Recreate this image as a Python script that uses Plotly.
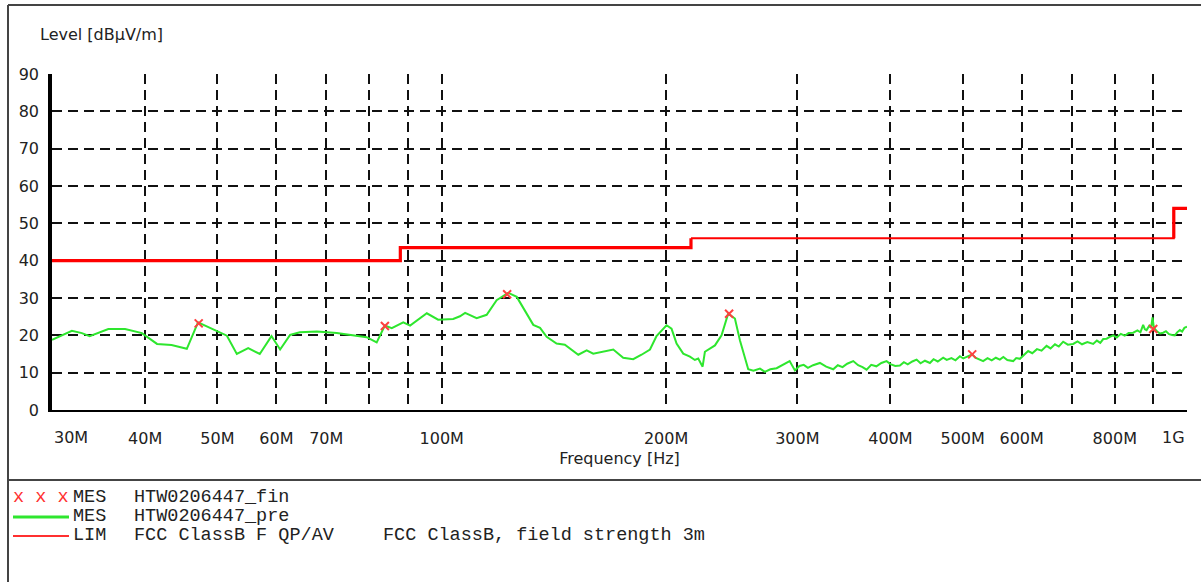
import plotly.graph_objects as go

# pre-scan trace (MHz, dBuV/m)
pre_freq_mhz = [
    30.0, 31.9, 32.9, 33.7, 35.7, 37.6, 39.6, 41.5, 43.4, 45.5, 47.1, 49.9, 51.5, 53.1, 55.0,
    57.0, 59.1, 60.7, 62.6, 64.5, 68.0, 72.3, 75.3, 79.3, 81.8, 83.9, 85.7, 88.8, 90.7, 95.5,
    98.9, 103.6, 105.8, 107.5, 111.4, 114.9, 118.5, 122.8, 126.1, 129.3, 132.7, 135.5, 138.3,
    142.6, 146.3, 152.5, 156.5, 159.7, 169.9, 175.2, 180.7, 185.4, 190.3, 194.2, 200.3, 203.4,
    206.6, 210.9, 215.3, 218.6, 220.9, 223.9, 225.5, 232.6, 237.4, 242.3, 247.4, 251.3, 257.8,
    262, 267.3, 271.4, 276, 281.4, 286, 293, 297.8, 302, 306, 310, 315, 321.7, 328, 335.2, 340,
    345, 350, 356.6, 362, 367, 371.6, 377, 383, 389, 395.3, 400, 406, 411.9, 417, 422, 428,
    433.7, 439, 445, 451.9, 457, 463, 470.8, 476, 483, 489, 495.8, 501, 508, 514.9, 520, 526,
    532.7, 540, 547, 554, 560.9, 567, 574, 584.5, 590, 596.7, 604, 612.2, 620, 629, 638, 648,
    656, 665, 673, 682.1, 692, 703.5, 713, 723, 735, 748.4, 757, 765, 772, 780.1, 788, 796.1,
    805, 815, 825, 835, 846.7, 858, 866, 873.3, 878, 882.5, 890, 895, 899, 902, 905.5, 912, 920,
    929, 937, 946, 955, 963.2, 970, 978.2, 985, 992, 1000,
]
pre_level = [
    18.8, 21.2, 20.6, 19.8, 21.7, 21.7, 20.6, 17.7, 17.4, 16.4, 23.5, 21.3, 19.9, 15.0, 16.6,
    15.0, 19.8, 16.2, 20.1, 20.8, 21.0, 20.6, 20.1, 19.5, 18.1, 22.6, 21.9, 23.5, 22.6, 25.9,
    24.2, 24.4, 25.1, 26.0, 24.6, 25.5, 29.4, 31.4, 30.3, 26.7, 22.8, 22.0, 19.6,
    17.8, 17.5, 14.8, 16.0, 15.1, 16.2, 14.0, 13.6, 14.8, 16.2, 19.8, 22.7, 21.8,
    17.8, 15.1, 14.3, 13.4, 13.8, 11.6, 15.6, 17.3, 20.0, 25.8, 24.5, 18.6, 10.9,
    10.5, 11.1, 10.2, 10.9, 11.2, 12.0, 13.1, 10.6, 11.8, 12.1, 11.3, 12.0, 12.6, 11.6, 10.9, 12.0,
    11.5, 12.4, 13.1, 12.0, 11.5, 10.8, 12.1, 11.7, 12.6, 13.1, 12.3, 11.8, 11.9, 12.8, 12.2, 13.0,
    13.5, 12.5, 13.2, 12.6, 13.6, 13.0, 14.0, 13.4, 13.9, 13.3, 14.4, 13.8, 14.3, 14.9, 14.0, 13.6,
    13.1, 13.9, 13.3, 14.0, 13.5, 14.2, 13.4, 13.1, 13.9, 13.7, 14.8, 15.8, 15.2, 16.3, 15.9, 17.2,
    16.5, 17.6, 17.0, 18.3, 17.5, 17.7, 18.4, 17.6, 18.2, 17.7, 18.6, 18.0, 19.0, 19.1, 19.6, 20.0,
    19.4, 20.4, 19.9, 20.6, 20.7, 21.3, 20.8, 22.8, 21.6, 21.4, 22.6, 22.0, 24.8, 22.5, 21.7, 21.0, 20.5,
    20.7, 21.1, 20.3, 20.1, 20.0, 20.8, 21.4, 21.0, 22.0, 22.3,
]

# final measurements (red x)
fin_freq_mhz = [47.2, 83.9, 122.4, 243.0, 515.0, 901.0]
fin_level = [23.2, 22.5, 31.0, 25.8, 14.9, 21.7]

# FCC class B limit, 3 m
lim_freq_mhz = [30, 88, 88, 216, 216, 960, 960, 1000]
lim_level = [40, 40, 43.5, 43.5, 46, 46, 54, 54]

tick_mhz = [30, 40, 50, 60, 70, 80, 90, 100, 200, 300, 400, 500, 600, 700, 800, 900, 1000]
tick_text = ['', '40M', '50M', '60M', '70M', '', '', '100M', '200M', '300M', '400M',
             '500M', '600M', '', '800M', '', '']

HZ = 1e6
L, R, T, B = 52, 14, 74, 172
W, H = 1201, 582
PW, PH = W - L - R, H - T - B


def px(x):
    return (x - L) / PW


def py(y):
    return (H - B - y) / PH


fig = go.Figure()

# limit line, thick where the reference draws it thick
fig.add_trace(go.Scatter(x=[f * HZ for f in lim_freq_mhz[:5]], y=lim_level[:5], mode='lines',
                         line=dict(color='#ff0000', width=3.2), hoverinfo='skip'))
fig.add_trace(go.Scatter(x=[f * HZ for f in lim_freq_mhz[4:7]], y=lim_level[4:7], mode='lines',
                         line=dict(color='#ff0000', width=2), hoverinfo='skip'))
fig.add_trace(go.Scatter(x=[f * HZ for f in lim_freq_mhz[5:]], y=lim_level[5:], mode='lines',
                         line=dict(color='#ff0000', width=3.2), hoverinfo='skip'))

fig.add_trace(go.Scatter(x=[f * HZ for f in pre_freq_mhz], y=pre_level, mode='lines',
                         line=dict(color='#2ee62e', width=2), name='pre'))
fig.add_trace(go.Scatter(x=[f * HZ for f in fin_freq_mhz], y=fin_level, mode='markers',
                         marker=dict(symbol='x-thin', size=8, line=dict(color='#ff4040', width=2)),
                         name='fin'))

grid = dict(showgrid=True, gridcolor='#111111', gridwidth=1.6, griddash='10px,6px',
            zeroline=False, showline=True, linecolor='#000000', ticks='',
            tickfont=dict(family='DejaVu Sans', size=16, color='#222222'))

fig.update_xaxes(type='log', range=[7.4771, 9.0], tickvals=[t * HZ for t in tick_mhz],
                 ticktext=tick_text, linewidth=2, ticklabelstandoff=13,
                 title=dict(text='Frequency [Hz]', standoff=6,
                            font=dict(family='DejaVu Sans', size=16, color='#222222')),
                 **grid)
fig.update_yaxes(range=[0, 90], dtick=10, linewidth=3.5, ticklabelstandoff=6, **grid)

mono = dict(family='Liberation Mono', size=18.5, color='#222222')
sans = dict(family='DejaVu Sans', size=16, color='#222222')
ann = [
    dict(x=px(38), y=py(35), text='Level [dBµV/m]', xanchor='left', font=sans),
    dict(x=0, y=py(437), text='30M', xanchor='left', font=sans),
    dict(x=1, y=py(437), text='1G', xanchor='right', font=sans),
    dict(x=px(11), y=py(497), text='x x x', xanchor='left', font=dict(mono, color='#ff3030')),
    dict(x=px(71), y=py(497), text='MES', xanchor='left', font=mono),
    dict(x=px(132), y=py(497), text='HTW0206447_fin', xanchor='left', font=mono),
    dict(x=px(71), y=py(516), text='MES', xanchor='left', font=mono),
    dict(x=px(132), y=py(516), text='HTW0206447_pre', xanchor='left', font=mono),
    dict(x=px(71), y=py(535), text='LIM', xanchor='left', font=mono),
    dict(x=px(132), y=py(535), text='FCC ClassB F QP/AV', xanchor='left', font=mono),
    dict(x=px(381), y=py(535), text='FCC ClassB, field strength 3m', xanchor='left', font=mono),
]
for a in ann:
    fig.add_annotation(xref='paper', yref='paper', yanchor='middle', showarrow=False, **a)

# frame around chart + legend area, legend line samples
fig.add_shape(type='line', xref='paper', yref='paper', x0=px(8), x1=px(W), y0=py(5), y1=py(5),
              line=dict(color='#444444', width=2))
fig.add_shape(type='line', xref='paper', yref='paper', x0=px(8), x1=px(8), y0=py(5), y1=py(H),
              line=dict(color='#444444', width=2))
fig.add_shape(type='line', xref='paper', yref='paper', x0=px(8), x1=px(W), y0=py(480), y1=py(480),
              line=dict(color='#444444', width=2))
fig.add_shape(type='line', xref='paper', yref='paper', x0=px(13), x1=px(69), y0=py(517), y1=py(517),
              line=dict(color='#2ee62e', width=3))
fig.add_shape(type='line', xref='paper', yref='paper', x0=px(13), x1=px(69), y0=py(536), y1=py(536),
              line=dict(color='#ff3030', width=2))

fig.update_layout(width=W, height=H, margin=dict(l=L, r=R, t=T, b=B),
                  paper_bgcolor='white', plot_bgcolor='white', showlegend=False,
                  font=dict(family='DejaVu Sans'))

fig.write_html("out.html", config={'displayModeBar': False},
               post_script="document.body.style.margin='0';")
